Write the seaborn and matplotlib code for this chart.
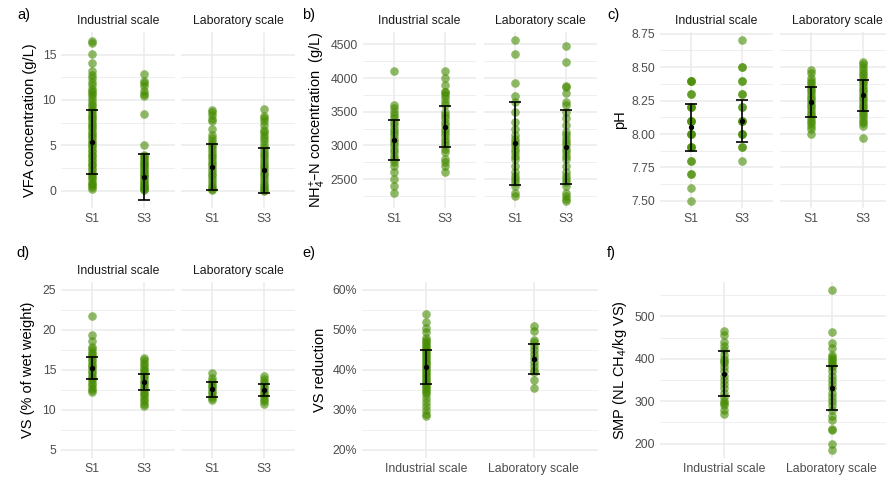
import numpy as np
import pandas as pd
import matplotlib
matplotlib.use("Agg")
import matplotlib.pyplot as plt
from matplotlib.ticker import FixedLocator, FuncFormatter
import seaborn as sns

# valores (pontos individuais)
vfa_ind_s1 = [16.5, 16.3, 15.1, 14.1, 13.2, 12.8, 12.4, 12.0, 11.6, 11.2, 11.0, 10.8, 10.5, 10.2,
              9.9, 9.6, 9.3, 9.0, 8.8, 8.5, 8.2, 8.0, 7.8, 7.5, 7.2, 7.0, 6.8, 6.5, 6.3, 6.0,
              5.8, 5.5, 5.3, 5.0, 4.8, 4.5, 4.3, 4.0, 3.8, 3.5, 3.3, 3.0, 2.8, 2.5, 2.3, 2.0,
              1.8, 1.5, 1.3, 1.0, 0.8, 0.6, 0.4, 0.2]
vfa_ind_s3 = [12.9, 12.1, 11.9, 11.5, 11.0, 10.7, 10.4, 8.5, 5.0, 4.0, 3.8, 3.6, 3.4, 3.2, 3.0,
              2.8, 2.6, 2.4, 2.2, 2.0, 1.8, 1.6, 1.4, 1.2, 1.0, 0.8, 0.6, 0.4, 0.3, 0.2, 0.1]
vfa_lab_s1 = [8.9, 8.7, 8.3, 7.9, 7.7, 6.8, 6.2, 5.8, 5.5, 5.2, 4.9, 4.6, 4.3, 4.0, 3.7, 3.4,
              3.1, 2.8, 2.5, 2.2, 1.9, 1.6, 1.3, 1.0, 0.7, 0.4, 0.2, 0.1]
vfa_lab_s3 = [9.0, 8.2, 8.0, 7.7, 7.2, 6.7, 6.5, 6.2, 5.8, 5.5, 5.0, 4.7, 4.4, 4.1, 3.8, 3.5,
              3.2, 2.9, 2.6, 2.3, 2.0, 1.7, 1.4, 1.1, 0.8, 0.5, 0.3, 0.1, 0.0]
vfa_media = [5.4, 1.55, 2.6, 2.25]
vfa_dp = [3.5, 2.55, 2.55, 2.45]

nh4_ind_s1 = [4100, 3600, 3550, 3500, 3450, 3400, 3350, 3300, 3250, 3200, 3150, 3100, 3050,
              3000, 2950, 2900, 2850, 2800, 2750, 2700, 2600, 2500, 2400, 2300]
nh4_ind_s3 = [4100, 4000, 3900, 3800, 3800, 3750, 3700, 3650, 3600, 3500, 3450, 3400, 3350,
              3300, 3250, 3200, 3150, 3100, 3050, 3000, 2950, 2900, 2800, 2750, 2700, 2600]
nh4_lab_s1 = [4560, 4360, 3920, 3730, 3650, 3500, 3350, 3250, 3150, 3100, 3050, 3000, 2950,
              2900, 2850, 2800, 2700, 2600, 2550, 2500, 2450, 2400, 2300, 2250]
nh4_lab_s3 = [4480, 4240, 3890, 3870, 3780, 3650, 3600, 3500, 3400, 3300, 3200, 3150, 3100,
              3050, 3000, 2950, 2900, 2850, 2800, 2700, 2600, 2550, 2500, 2450, 2400, 2300,
              2250, 2200, 2170]
nh4_media = [3075, 3280, 3030, 2975]
nh4_dp = [297, 310, 617, 545]

ph_ind_s1 = [8.4, 8.4, 8.4, 8.3, 8.3, 8.2, 8.2, 8.2, 8.1, 8.1, 8.1, 8.0, 8.0, 8.0, 7.9, 7.9,
             7.9, 7.8, 7.8, 7.7, 7.7, 7.6, 7.5]
ph_ind_s3 = [8.7, 8.5, 8.5, 8.4, 8.4, 8.3, 8.3, 8.2, 8.2, 8.1, 8.1, 8.1, 8.0, 8.0, 8.0, 7.9,
             7.9, 7.8]
ph_lab_s1 = [8.48, 8.46, 8.42, 8.40, 8.38, 8.36, 8.34, 8.32, 8.30, 8.28, 8.26, 8.24, 8.22,
             8.20, 8.18, 8.16, 8.14, 8.12, 8.10, 8.08, 8.06, 8.04, 8.00]
ph_lab_s3 = [8.54, 8.52, 8.50, 8.48, 8.46, 8.44, 8.42, 8.40, 8.38, 8.36, 8.34, 8.32, 8.30,
             8.28, 8.26, 8.24, 8.22, 8.20, 8.18, 8.16, 8.14, 8.12, 8.10, 8.08, 8.06, 7.97]
ph_media = [8.05, 8.10, 8.24, 8.29]
ph_dp = [0.175, 0.157, 0.113, 0.117]

vs_ind_s1 = [21.8, 19.4, 18.6, 17.9, 17.6, 17.3, 17.0, 16.7, 16.4, 16.1, 15.8, 15.5, 15.2,
             14.9, 14.6, 14.3, 14.0, 13.7, 13.4, 13.1, 12.8, 12.5, 12.3]
vs_ind_s3 = [16.5, 16.2, 15.9, 15.6, 15.3, 15.0, 14.7, 14.4, 14.1, 13.8, 13.5, 13.2, 12.9,
             12.6, 12.3, 12.0, 11.7, 11.4, 11.1, 10.8, 10.5]
vs_lab_s1 = [14.6, 14.0, 13.6, 13.3, 13.0, 12.7, 12.4, 12.1, 11.8, 11.5, 11.2]
vs_lab_s3 = [14.2, 13.9, 13.5, 13.2, 12.9, 12.6, 12.3, 12.0, 11.7, 11.4, 11.1, 10.8]
vs_media = [15.25, 13.5, 12.6, 12.5]
vs_dp = [1.33, 0.95, 0.95, 0.8]

vsr_ind = [0.54, 0.52, 0.505, 0.495, 0.48, 0.475, 0.47, 0.465, 0.46, 0.455, 0.45, 0.445, 0.44,
           0.435, 0.43, 0.425, 0.42, 0.415, 0.41, 0.405, 0.40, 0.395, 0.39, 0.385, 0.38, 0.375,
           0.37, 0.365, 0.36, 0.355, 0.35, 0.345, 0.34, 0.33, 0.32, 0.31, 0.30, 0.29, 0.285]
vsr_lab = [0.51, 0.498, 0.475, 0.47, 0.46, 0.45, 0.44, 0.43, 0.42, 0.41, 0.40, 0.395, 0.375, 0.355]
vsr_media = [0.408, 0.428]
vsr_dp = [0.043, 0.037]

smp_ind = [465, 455, 440, 430, 420, 410, 400, 395, 390, 380, 370, 360, 350, 340, 330, 320,
           310, 300, 295, 290, 280, 270]
smp_lab = [562, 463, 437, 425, 410, 405, 400, 395, 390, 385, 380, 370, 360, 350, 340, 330,
           320, 310, 300, 290, 280, 265, 255, 235, 232, 200, 185]
smp_media = [365, 332]
smp_dp = [52.5, 52]

substratos = ["S1", "S3"]
escalas = ["Industrial scale", "Laboratory scale"]

VERDE = "#458B00"
CINZA = "#4D4D4D"
W, H = 887, 480

sns.set_theme(style="white")
plt.rcParams["font.family"] = ["Liberation Sans", "DejaVu Sans"]
plt.rcParams["mathtext.default"] = "regular"

fig = plt.figure(figsize=(W / 100, H / 100), dpi=100)


def eixo(esq, topo, dir, base):
    return fig.add_axes([esq / W, 1 - base / H, (dir - esq) / W, (base - topo) / H])


def painel(ax, grupos, cats, media, dp, ylim, yticks, ymenor, rotulos=True, fmt=None):
    df = pd.DataFrame([(c, v) for c, vals in zip(cats, grupos) for v in vals],
                      columns=["grupo", "valor"])
    sns.stripplot(data=df, x="grupo", y="valor", order=cats, jitter=False, color=VERDE,
                  alpha=0.6, size=6.2, linewidth=0, ax=ax, zorder=2)
    ax.errorbar(range(len(cats)), media, yerr=dp, fmt="o", color="black", ms=2.8,
                capsize=4.5, elinewidth=1.2, capthick=1.2, zorder=3)
    ax.set_xlim(-0.6, len(cats) - 0.4)
    ax.set_ylim(*ylim)
    ax.yaxis.set_major_locator(FixedLocator(yticks))
    ax.yaxis.set_minor_locator(FixedLocator(ymenor))
    if fmt is not None:
        ax.yaxis.set_major_formatter(FuncFormatter(fmt))
    ax.grid(True, which="major", color="#EBEBEB", lw=1.1, zorder=0)
    ax.grid(True, which="minor", axis="y", color="#EBEBEB", lw=0.55, zorder=0)
    ax.set_axisbelow(True)
    for s in ax.spines.values():
        s.set_visible(False)
    ax.tick_params(which="both", length=0, labelsize=8.8, labelcolor=CINZA, pad=3.5)
    if not rotulos:
        ax.tick_params(axis="y", labelleft=False)
    ax.set_xlabel("")
    ax.set_ylabel("")


def faixa(ax, texto):
    ax.annotate(texto, xy=(0.5, 1), xycoords="axes fraction", xytext=(0, 8),
                textcoords="offset points", ha="center", va="center", fontsize=8.8,
                color="#1A1A1A")


def texto_fig(x, y, s, **kw):
    fig.text(x / W, 1 - y / H, s, **kw)


T1, B1 = 32, 208
T2, B2 = 282, 458

# a) VFA
ax = eixo(61, T1, 175, B1)
painel(ax, [vfa_ind_s1, vfa_ind_s3], substratos, vfa_media[:2], vfa_dp[:2], (-1.88, 17.48),
       [0, 5, 10, 15], [2.5, 7.5, 12.5, 17.5], fmt=lambda v, p: f"{v:g}")
faixa(ax, escalas[0])
ax = eixo(181, T1, 295, B1)
painel(ax, [vfa_lab_s1, vfa_lab_s3], substratos, vfa_media[2:], vfa_dp[2:], (-1.88, 17.48),
       [0, 5, 10, 15], [2.5, 7.5, 12.5, 17.5], rotulos=False)
faixa(ax, escalas[1])

# b) NH4-N
ax = eixo(363, T1, 476, B1)
painel(ax, [nh4_ind_s1, nh4_ind_s3], substratos, nh4_media[:2], nh4_dp[:2], (2070, 4685),
       [2500, 3000, 3500, 4000, 4500], [2250, 2750, 3250, 3750, 4250],
       fmt=lambda v, p: f"{v:g}")
faixa(ax, escalas[0])
ax = eixo(484, T1, 597, B1)
painel(ax, [nh4_lab_s1, nh4_lab_s3], substratos, nh4_media[2:], nh4_dp[2:], (2070, 4685),
       [2500, 3000, 3500, 4000, 4500], [2250, 2750, 3250, 3750, 4250], rotulos=False)
faixa(ax, escalas[1])

# c) pH
ax = eixo(660, T1, 773, B1)
painel(ax, [ph_ind_s1, ph_ind_s3], substratos, ph_media[:2], ph_dp[:2], (7.447, 8.763),
       [7.5, 7.75, 8.0, 8.25, 8.5, 8.75], [7.625, 7.875, 8.125, 8.375, 8.625],
       fmt=lambda v, p: f"{v:.2f}")
faixa(ax, escalas[0])
ax = eixo(780, T1, 894, B1)
painel(ax, [ph_lab_s1, ph_lab_s3], substratos, ph_media[2:], ph_dp[2:], (7.447, 8.763),
       [7.5, 7.75, 8.0, 8.25, 8.5, 8.75], [7.625, 7.875, 8.125, 8.375, 8.625], rotulos=False)
faixa(ax, escalas[1])

# d) VS
ax = eixo(61, T2, 175, B2)
painel(ax, [vs_ind_s1, vs_ind_s3], substratos, vs_media[:2], vs_dp[:2], (4, 26),
       [5, 10, 15, 20, 25], [7.5, 12.5, 17.5, 22.5], fmt=lambda v, p: f"{v:g}")
faixa(ax, escalas[0])
ax = eixo(181, T2, 295, B2)
painel(ax, [vs_lab_s1, vs_lab_s3], substratos, vs_media[2:], vs_dp[2:], (4, 26),
       [5, 10, 15, 20, 25], [7.5, 12.5, 17.5, 22.5], rotulos=False)
faixa(ax, escalas[1])

# e) redução de VS
ax = eixo(362, T2, 598, B2)
painel(ax, [vsr_ind, vsr_lab], escalas, vsr_media, vsr_dp, (0.18, 0.62),
       [0.2, 0.3, 0.4, 0.5, 0.6], [0.25, 0.35, 0.45, 0.55], fmt=lambda v, p: f"{v * 100:.0f}%")

# f) SMP
ax = eixo(660, T2, 896, B2)
painel(ax, [smp_ind, smp_lab], escalas, smp_media, smp_dp, (166, 581),
       [200, 300, 400, 500], [250, 350, 450, 550], fmt=lambda v, p: f"{v:g}")

# letras dos painéis
for x, y, s in [(17, 15, "a)"), (302, 15, "b)"), (607, 15, "c)"),
                (16, 253, "d)"), (302, 253, "e)"), (607, 253, "f)")]:
    texto_fig(x, y, s, ha="left", va="center", fontsize=10.5, color="black")

# títulos dos eixos y
ylab = dict(rotation=90, ha="center", va="center", fontsize=10.5, color="black")
texto_fig(30, 120, "VFA concentration (g/L)", **ylab)
texto_fig(318, 120, r"NH$_4^{+}$–N concentration  (g/L)", **ylab)
texto_fig(620, 120, "pH", **ylab)
texto_fig(28, 370, "VS (% of wet weight)", **ylab)
texto_fig(320, 370, "VS reduction", **ylab)
texto_fig(620, 370, r"SMP (NL CH$_4$/kg VS)", **ylab)

fig.savefig("out.png", dpi=100)
